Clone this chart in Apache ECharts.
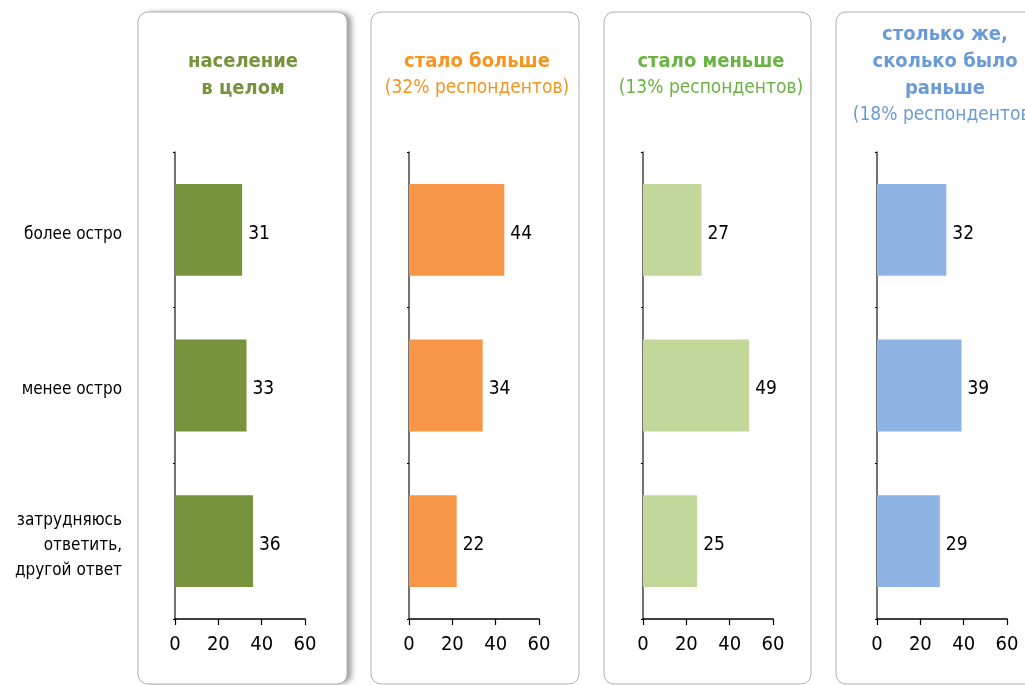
<!DOCTYPE html>
<html><head><meta charset="utf-8">
<script src="https://cdn.jsdelivr.net/npm/echarts@6/dist/echarts.min.js"></script>
<style>html,body{margin:0;padding:0;background:#fff;}#c{width:1025px;height:685px;}</style>
</head><body><div id="c"></div>
<script>
const categories = ['более остро', 'менее остро', 'затрудняюсь\nответить,\nдругой ответ'];
const xTicks = [0, 20, 40, 60];
const populationTotal = [31, 33, 36];
const becameMore = [44, 34, 22];
const becameLess = [27, 49, 25];
const sameAsBefore = [32, 39, 29];
const panelTitles = [
  {bold: 'население\nв целом', sub: ''},
  {bold: 'стало больше', sub: '(32% респондентов)'},
  {bold: 'стало меньше', sub: '(13% респондентов)'},
  {bold: 'столько же,\nсколько было\nраньше', sub: '(18% респондентов)'}
];
const seriesData = [populationTotal, becameMore, becameLess, sameAsBefore];

const FONT = '"DejaVu Sans Condensed", "Liberation Sans Narrow", sans-serif';
const barColors = ['#77933c', '#f79646', '#c4d79b', '#8db4e2'];
const titleColors = ['#77933c', '#f7941d', '#6ab344', '#6a9bd6'];
const panels = [
  {x: 138, w: 209, zero: 175},
  {x: 371, w: 208, zero: 409},
  {x: 604, w: 207, zero: 643},
  {x: 836, w: 210, zero: 877}
];
const titleTops = [48, 48, 48, 21];

const grids = [], xAxes = [], yAxes = [], series = [], graphics = [];
panels.forEach((p, i) => {
  if (i === 0) {
    graphics.push({
      type: 'rect', z: -11,
      shape: {x: p.x, y: 12, width: p.w, height: 672, r: 10},
      style: {fill: '#fff', shadowBlur: 5, shadowOffsetX: 5, shadowOffsetY: 0, shadowColor: 'rgba(0,0,0,0.35)'}
    });
  }
  graphics.push({
    type: 'rect', z: -10,
    shape: {x: p.x, y: 12, width: p.w, height: 672, r: 10},
    style: {fill: '#fff', stroke: '#b0b0b0', lineWidth: 1}
  });
  const cx = p.zero + 68;
  const t = panelTitles[i];
  graphics.push({
    type: 'text', z: 10,
    style: {
      text: '{b|' + t.bold + '}' + (t.sub ? '\n{s|' + t.sub + '}' : ''),
      x: cx, y: titleTops[i], align: 'center', verticalAlign: 'top',
      rich: {
        b: {fontFamily: FONT, fontSize: 20, fontWeight: 'bold', fill: titleColors[i], lineHeight: 27, align: 'center'},
        s: {fontFamily: FONT, fontSize: 19, fill: titleColors[i], lineHeight: 27, align: 'center'}
      }
    }
  });
  grids.push({left: p.zero, top: 152, width: 130, height: 467});
  xAxes.push({
    type: 'value', gridIndex: i, min: 0, max: 60, interval: 20,
    splitLine: {show: false},
    axisLine: {show: true, lineStyle: {color: '#000', width: 1.5}},
    axisTick: {show: true, length: 6, lineStyle: {color: '#000', width: 1.2}},
    axisLabel: {show: true, fontFamily: FONT, fontSize: 20, color: '#000', margin: 16,
      customValues: xTicks}
  });
  yAxes.push({
    type: 'category', gridIndex: i, data: categories, inverse: true,
    axisLine: {show: true, lineStyle: {color: '#444', width: 1.5}},
    axisTick: {show: true, length: 2, lineStyle: {color: '#000'}},
    axisLabel: {show: i === 0, color: '#000', margin: 53, align: 'right',
      formatter: v => '{pad|}\n' + v.split('\n').map(s => '{a|' + s + '}').join('\n'),
      rich: {
        pad: {fontSize: 1, lineHeight: 9},
        a: {fontFamily: FONT, fontSize: 17, color: '#000', lineHeight: 25, align: 'right'}
      }}
  });
  series.push({
    type: 'bar', xAxisIndex: i, yAxisIndex: i, data: seriesData[i],
    barWidth: '59%',
    itemStyle: {color: barColors[i]},
    label: {show: true, position: 'right', distance: 6, offset: [0, 4], fontFamily: FONT, fontSize: 19, color: '#000'},
    silent: true
  });
});

const chart = echarts.init(document.getElementById('c'), null, {renderer: 'canvas'});
chart.setOption({
  animation: false,
  backgroundColor: '#fff',
  grid: grids, xAxis: xAxes, yAxis: yAxes, series: series,
  graphic: graphics
});
</script></body></html>
